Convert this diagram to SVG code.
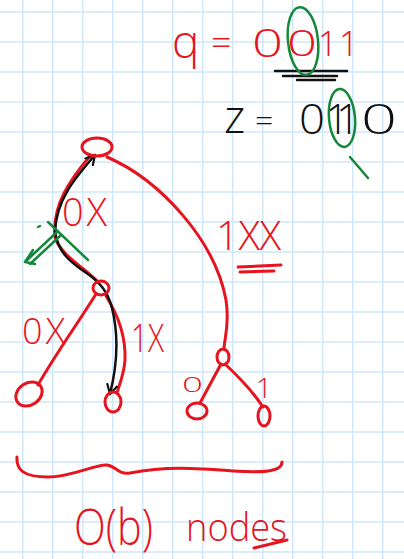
<svg xmlns="http://www.w3.org/2000/svg" width="404" height="559" viewBox="0 0 404 559">
<defs>
<style>
.grid line{stroke:#cfe7f8;stroke-width:1.5}
.r{fill:none;stroke:#e6141e;stroke-width:3;stroke-linecap:round;stroke-linejoin:round}
.k{fill:none;stroke:#111;stroke-width:2.5;stroke-linecap:round;stroke-linejoin:round}
.g{fill:none;stroke:#14883a;stroke-width:2.5;stroke-linecap:round;stroke-linejoin:round}
.tr{fill:#e6141e;font-family:"Open Sans","Liberation Sans",Arial,sans-serif;font-weight:300}
.tk{fill:#111;font-family:"Open Sans","Liberation Sans",Arial,sans-serif;font-weight:300}
</style>
<marker id="ah" viewBox="0 0 12 12" refX="10" refY="6" markerWidth="12" markerHeight="12" markerUnits="userSpaceOnUse" orient="auto-start-reverse">
<path d="M1,1 L10,6 L1,11" fill="none" stroke="#111" stroke-width="2.2" stroke-linecap="round" stroke-linejoin="round"/>
</marker>
</defs>
<rect width="404" height="559" fill="#fff"/>
<g class="grid" id="grid">
<line x1="22.7" y1="0" x2="22.7" y2="559"/><line x1="52.7" y1="0" x2="52.7" y2="559"/><line x1="82.7" y1="0" x2="82.7" y2="559"/><line x1="112.7" y1="0" x2="112.7" y2="559"/><line x1="142.7" y1="0" x2="142.7" y2="559"/><line x1="172.7" y1="0" x2="172.7" y2="559"/><line x1="202.7" y1="0" x2="202.7" y2="559"/><line x1="232.7" y1="0" x2="232.7" y2="559"/><line x1="262.7" y1="0" x2="262.7" y2="559"/><line x1="292.7" y1="0" x2="292.7" y2="559"/><line x1="322.7" y1="0" x2="322.7" y2="559"/><line x1="352.7" y1="0" x2="352.7" y2="559"/><line x1="382.7" y1="0" x2="382.7" y2="559"/>
<line x1="0" y1="12" x2="404" y2="12"/><line x1="0" y1="42" x2="404" y2="42"/><line x1="0" y1="72" x2="404" y2="72"/><line x1="0" y1="102" x2="404" y2="102"/><line x1="0" y1="132" x2="404" y2="132"/><line x1="0" y1="162" x2="404" y2="162"/><line x1="0" y1="192" x2="404" y2="192"/><line x1="0" y1="222" x2="404" y2="222"/><line x1="0" y1="252" x2="404" y2="252"/><line x1="0" y1="282" x2="404" y2="282"/><line x1="0" y1="312" x2="404" y2="312"/><line x1="0" y1="342" x2="404" y2="342"/><line x1="0" y1="372" x2="404" y2="372"/><line x1="0" y1="402" x2="404" y2="402"/><line x1="0" y1="432" x2="404" y2="432"/><line x1="0" y1="462" x2="404" y2="462"/><line x1="0" y1="492" x2="404" y2="492"/><line x1="0" y1="522" x2="404" y2="522"/><line x1="0" y1="552" x2="404" y2="552"/>
</g>

<g id="connectors">
<path class="r" d="M90,156 C70,180 52,205 55,237 C60,255 85,268 97,281"/>
<path class="r" d="M107,157 C160,180 215,240 226,300 C230,325 224,340 224,349"/>
<path class="r" d="M96,294 C80,320 55,355 38,385"/>
<path class="r" d="M106,296 C118,315 126,335 125,360 C124,375 119,385 117,393"/>
<path class="r" d="M221,364 L200,403"/>
<path class="r" d="M225,364 C240,378 255,395 263,407"/>
<path class="k" marker-start="url(#ah)" marker-end="url(#ah)" d="M95,155 C75,178 56,200 55,232 C58,252 70,262 85,272 C100,282 108,292 112,308 C118,332 118,362 110,394"/>
</g>

<g id="root"><ellipse class="r" cx="97" cy="147" rx="15" ry="9"/></g>
<g id="node-0"><ellipse class="r" cx="101" cy="288" rx="8" ry="7"/></g>
<g id="leaf-00"><ellipse class="r" cx="29" cy="394" rx="14" ry="11" transform="rotate(-35 29 394)"/></g>
<g id="leaf-01"><ellipse class="r" cx="113" cy="402" rx="8" ry="10"/></g>
<g id="node-1"><ellipse class="r" cx="223" cy="357" rx="6" ry="8"/></g>
<g id="leaf-10"><ellipse class="r" cx="197" cy="411" rx="10" ry="8"/></g>
<g id="leaf-11"><ellipse class="r" cx="264" cy="416" rx="6" ry="10"/></g>

<g id="labels">
<text class="tr" x="62" y="226" font-size="38" textLength="45">0X</text>
<text class="tr" x="22" y="344" font-size="36" textLength="43">0X</text>
<text class="tr" x="131" y="352" font-size="38" textLength="33" lengthAdjust="spacingAndGlyphs">1X</text>
<text class="tr" x="182" y="392" font-size="21" textLength="21" lengthAdjust="spacingAndGlyphs">0</text>
<text class="tr" x="256" y="398" font-size="28">1</text>
<text class="tr" x="216" y="250" font-size="40" textLength="65">1XX</text>
<path class="r" d="M238,267 L281,265 M240,272 L274,271"/>
</g>

<g id="query">
<text class="tr" x="172" y="58" font-size="46">q</text>
<text class="tr" x="211" y="56" font-size="36">=</text>
<text class="tr" x="252" y="57" font-size="38" textLength="31" lengthAdjust="spacingAndGlyphs">0</text>
<text class="tr" x="287" y="56" font-size="36" textLength="30" lengthAdjust="spacingAndGlyphs">0</text>
<text class="tr" x="318" y="56" font-size="34">1</text>
<text class="tr" x="339" y="56" font-size="34">1</text>
<path class="k" d="M275,71 L347,71 M283,76 L337,76 M297,80 L335,80"/>
<ellipse class="g" cx="303" cy="41" rx="15" ry="34" transform="rotate(-6 303 41)"/>
<text class="tk" x="224" y="133" font-size="46">z</text>
<text class="tk" x="255" y="131" font-size="32">=</text>
<text class="tk" x="299" y="134" font-size="42" textLength="26" lengthAdjust="spacingAndGlyphs">0</text>
<text class="tk" x="325 336" y="134" font-size="42">11</text>
<text class="tk" x="361" y="134" font-size="42" textLength="36" lengthAdjust="spacingAndGlyphs">0</text>
<ellipse class="g" cx="342" cy="118" rx="13" ry="29" transform="rotate(-5 342 118)"/>
<path class="g" d="M350,157 L368,178"/>
</g>

<g id="mark">
<path class="g" d="M48,222 L88,260"/>
<path class="g" d="M57,232 L25,262 M60,236 L30,264 M33,250 L25,262 L35,264 M38,227 L40,226"/>
</g>

<g id="summary">
<path class="r" d="M17,457 C16,470 24,477 48,477 C72,477 95,464 107,465 C116,466 118,475 130,473 C165,466 195,468 233,471 C262,473 282,472 282,462"/>
<text class="tr" x="74" y="545" font-size="50" textLength="79" lengthAdjust="spacingAndGlyphs">O(b)</text>
<text class="tr" x="186" y="541" font-size="38" textLength="101" lengthAdjust="spacingAndGlyphs">nodes</text>
<path class="r" d="M254,548 L287,540"/>
</g>
</svg>
